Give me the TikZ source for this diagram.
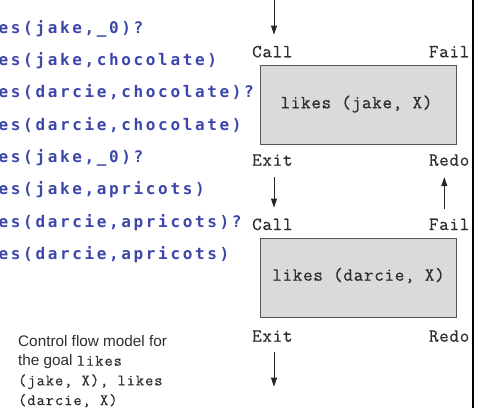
\documentclass[tikz,border=0pt]{standalone}
\usepackage{fontspec}
\setmainfont{Liberation Sans}
\newfontfamily\codefont[LetterSpace=16.5]{DejaVu Sans Mono}
\newfontfamily\portfont[LetterSpace=4, FakeBold=0.6]{Latin Modern Mono}
\newfontfamily\notefont[LetterSpace=6, FakeBold=0.4]{Latin Modern Mono}
\usetikzlibrary{arrows.meta}
\definecolor{codeblue}{RGB}{60,70,170}
\definecolor{labelgrey}{RGB}{45,45,45}
\definecolor{boxfill}{RGB}{218,218,218}
\definecolor{boxedge}{RGB}{85,85,85}
\newcommand{\goalcode}[1]{{\notefont\fontsize{16}{19}\selectfont #1}}
\tikzset{
  trace/.style={anchor=base west, inner sep=0pt, text=codeblue,
    font=\codefont\bfseries\fontsize{16}{19}\selectfont},
  port/.style={inner sep=0pt, text=labelgrey,
    font=\portfont\fontsize{18.5}{21}\selectfont},
  goalbox/.style={draw=boxedge, line width=1.3pt, fill=boxfill},
  goaltext/.style={anchor=base, inner sep=0pt, text=labelgrey,
    font=\portfont\fontsize{18.5}{21}\selectfont},
  flow/.style={draw=black!85, line width=0.9pt,
    -{Triangle[length=9pt,width=6pt]}},
  caption/.style={anchor=base west, inner sep=0pt, text=labelgrey,
    font=\fontsize{15.3}{18}\selectfont},
}
\begin{document}
\begin{tikzpicture}[x=1pt,y=-1pt]
\useasboundingbox (0,0) rectangle (487,408);

% trace of the query
\node[trace] (t1) at (-1.5,33.3)  {es(jake,\_0)?};
\node[trace] (t2) at (-1.5,65.6)  {es(jake,chocolate)};
\node[trace] (t3) at (-1.5,97.9)  {es(darcie,chocolate)?};
\node[trace] (t4) at (-1.5,130.2) {es(darcie,chocolate)};
\node[trace] (t5) at (-1.5,162.5) {es(jake,\_0)?};
\node[trace] (t6) at (-1.5,194.8) {es(jake,apricots)};
\node[trace] (t7) at (-1.5,227.1) {es(darcie,apricots)?};
\node[trace] (t8) at (-1.5,259.4) {es(darcie,apricots)};

% first goal box
\draw[goalbox] (260.5,65.7) rectangle (456.7,144.3);
\node[goaltext] (g1) at (356.5,108.3) {likes (jake, X)};
\node[port, anchor=base west] (call1) at (252,57.3) {Call};
\node[port, anchor=base east] (fail1) at (469.5,57.3) {Fail};
\node[port, anchor=base west] (exit1) at (252,165.7) {Exit};
\node[port, anchor=base east] (redo1) at (469.5,165.7) {Redo};

% second goal box
\draw[goalbox] (260.5,238.3) rectangle (456.7,317.7);
\node[goaltext] (g2) at (358.5,280.7) {likes (darcie, X)};
\node[port, anchor=base west] (call2) at (252,230) {Call};
\node[port, anchor=base east] (fail2) at (469.5,230) {Fail};
\node[port, anchor=base west] (exit2) at (252,341.7) {Exit};
\node[port, anchor=base east] (redo2) at (469.5,341.7) {Redo};

% control flow between the ports (yshift is in page units: positive is up)
\coordinate (entry) at (274,0);
\coordinate (rcol) at (444.3,0);
\coordinate (leave) at (274,386.7);
\draw[flow] (entry) -- ([yshift=11pt]call1.north -| entry);
\draw[flow] ([yshift=-11pt]exit1.south -| entry) -- ([yshift=10.7pt]call2.north -| entry);
\draw[flow] ([yshift=9.3pt]fail2.north -| rcol) -- ([yshift=-11pt]redo1.south -| rcol);
\draw[flow] ([yshift=-10pt]exit2.south -| leave) -- (leave);

% page rule
\coordinate (ruletop) at (473,0);
\coordinate (rulebot) at (473,408);
\draw[line width=1.3pt, black] (ruletop) -- (rulebot);

% caption
\node[caption] (c1) at (18,346)   {Control flow model for};
\node[caption] (c2) at (18,365.7) {the goal \goalcode{likes}};
\node[caption] (c3) at (18,385.4) {\goalcode{(jake, X), likes}};
\node[caption] (c4) at (18,405.1) {\goalcode{(darcie, X)}};
\end{tikzpicture}
\end{document}
